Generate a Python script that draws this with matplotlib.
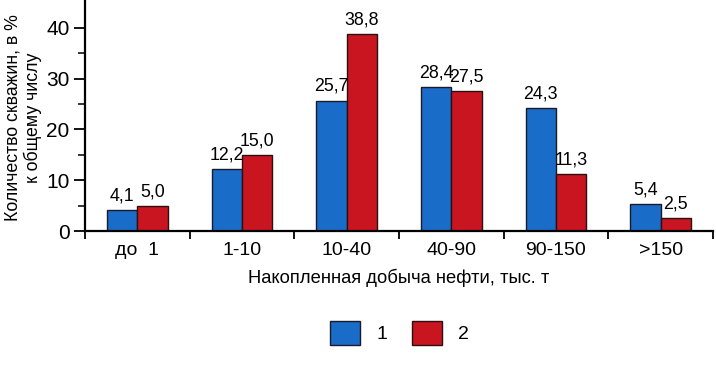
import numpy as np
import matplotlib
matplotlib.use("Agg")
import matplotlib.pyplot as plt

plt.rcParams['font.family'] = ['Liberation Sans', 'DejaVu Sans']

categories = ['до  1', '1-10', '10-40', '40-90', '90-150', '>150']
series_1 = [4.1, 12.2, 25.7, 28.4, 24.3, 5.4]
series_2 = [5.0, 15.0, 38.8, 27.5, 11.3, 2.5]
legend_labels = ['1', '2']

blue = '#1a6cc9'
red = '#c8151f'

fig = plt.figure(figsize=(7.16, 3.78), dpi=100)
ax = fig.add_axes([85 / 716, 1 - 231 / 378, 628 / 716, 231 / 378])

x = np.arange(len(categories)) + 0.5
w = 0.29
b1 = ax.bar(x - w / 2, series_1, w, color=blue, edgecolor='#1a1a2a', linewidth=1.0, label=legend_labels[0])
b2 = ax.bar(x + w / 2, series_2, w, color=red, edgecolor='#2a1010', linewidth=1.0, label=legend_labels[1])

fmt = lambda v: f'{v:.1f}'.replace('.', ',')
ax.bar_label(b1, labels=[fmt(v) for v in series_1], padding=4, fontsize=12.8)
ax.bar_label(b2, labels=[fmt(v) for v in series_2], padding=4, fontsize=12.8)

ax.set_xlim(0, len(categories))
ax.set_ylim(0, 45.5)

ax.spines['top'].set_visible(False)
ax.spines['right'].set_visible(False)
ax.spines['left'].set_linewidth(1.6)
ax.spines['bottom'].set_linewidth(1.6)

ax.set_yticks([0, 10, 20, 30, 40])
ax.set_yticks(np.arange(5, 45, 10), minor=True)
ax.tick_params(axis='y', which='major', length=8, width=1.3, labelsize=15, pad=3)
ax.tick_params(axis='y', which='minor', length=5, width=1.1)

ax.set_xticks(np.arange(0, len(categories) + 1))
ax.set_xticklabels([])
ax.set_xticks(x, minor=True)
ax.set_xticklabels(categories, minor=True)
ax.tick_params(axis='x', which='major', length=6, width=1.3)
ax.tick_params(axis='x', which='minor', length=0, labelsize=14, pad=8)

ax.set_xlabel('Накопленная добыча нефти, тыс. т', fontsize=13.2, labelpad=7)
ax.set_ylabel('Количество скважин, в %\nк общему числу', fontsize=12.8, linespacing=1.15)
ax.yaxis.set_label_coords(-0.068, 0.49)

fig.legend(handles=[b1, b2], labels=legend_labels, loc='center', bbox_to_anchor=(0.558, 1 - 333 / 378),
           ncols=2, frameon=False, fontsize=14, handlelength=1.55, handleheight=1.55,
           handletextpad=0.8, columnspacing=1.3)

fig.savefig('out.png', dpi=100)
